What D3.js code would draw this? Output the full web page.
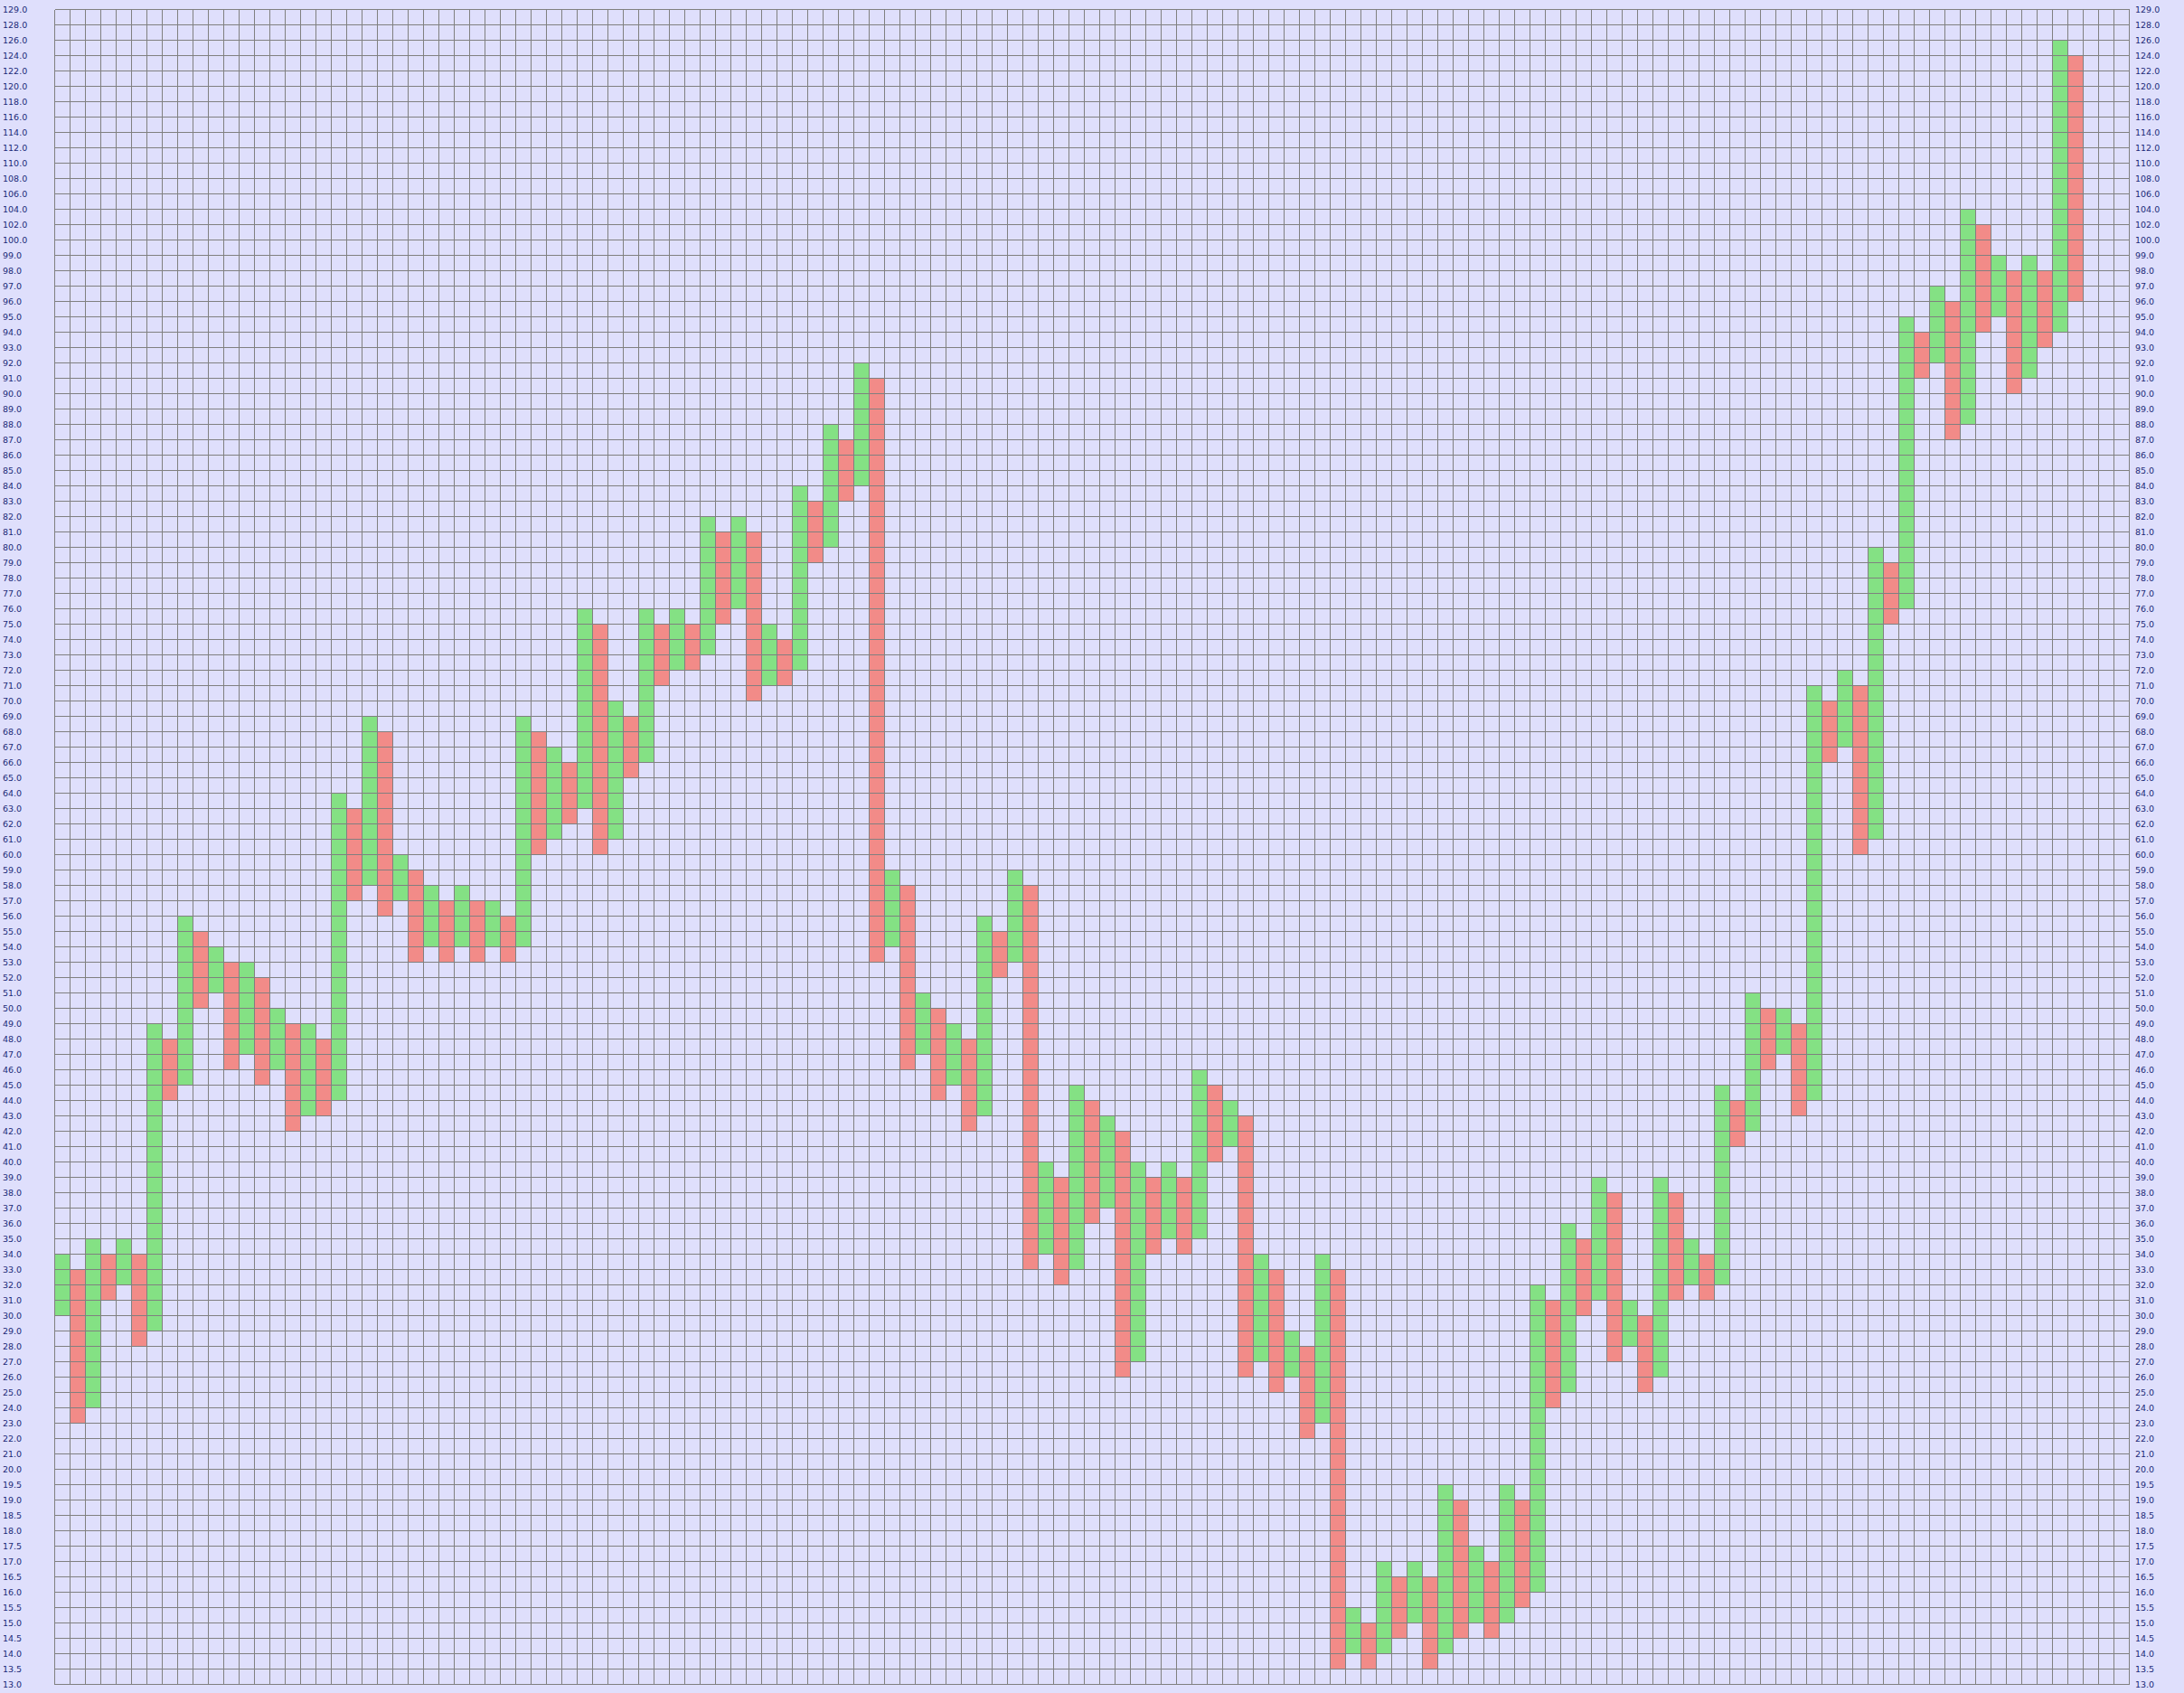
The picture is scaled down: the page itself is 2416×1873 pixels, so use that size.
<!DOCTYPE html>
<html>
<head>
<meta charset="utf-8">
<script src="https://cdn.jsdelivr.net/npm/d3@7"></script>
<style>
  html, body { margin: 0; padding: 0; background: #dfdffc; }
  svg { display: block; }
  .tick text { font-family: "DejaVu Sans", Verdana, sans-serif; font-size: 9.5px; fill: #1a2a78; }
</style>
</head>
<body>
<svg id="chart" width="2416" height="1873"></svg>
<script>
// Box price levels (y axis tick labels), ascending
const levelsHalf = [13.0,13.5,14.0,14.5,15.0,15.5,16.0,16.5,17.0,17.5,18.0,18.5,19.0,19.5,20.0];
const levelsOne = [21,22,23,24,25,26,27,28,29,30,31,32,33,34,35,36,37,38,39,40,41,42,43,44,45,46,47,48,49,50,
  51,52,53,54,55,56,57,58,59,60,61,62,63,64,65,66,67,68,69,70,71,72,73,74,75,76,77,78,79,80,
  81,82,83,84,85,86,87,88,89,90,91,92,93,94,95,96,97,98,99,100];
const levelsTwo = [102,104,106,108,110,112,114,116,118,120,122,124,126,128,129];

// Column lows / highs (box levels); columns alternate rising (X) / falling (O), starting with rising
const colLow = [30,23,24,31,32,28,29,44,45,50,51,46,47,45,46,42,43,43,44,57,58,56,57,53,54,53,54,53,54,53,
  54,60,61,62,63,60,61,65,66,71,72,72,73,75,76,70,71,71,72,79,80,83,84,53,54,46,47,44,45,42,
  43,52,53,33,34,32,33,36,37,26,27,34,35,34,35,40,41,26,27,25,26,22,23,13.5,14,13.5,14,14.5,15,13.5,
  14,14.5,15,14.5,15,15.5,16,24,25,30,31,27,28,25,26,31,32,31,32,41,42,46,47,43,44,66,67,60,61,75,
  76,91,92,87,88,94,95,90,91,93,94,96];
const colHigh = [34,33,35,34,35,34,49,48,56,55,54,53,53,52,50,49,49,48,64,63,69,68,60,59,58,57,58,57,57,56,
  69,68,67,66,76,75,70,69,76,75,76,75,82,81,82,81,75,74,84,83,88,87,92,91,59,58,51,50,49,48,
  56,55,59,58,40,39,45,44,43,42,40,39,40,39,46,45,44,43,34,33,29,28,34,33,15.5,15,17,16.5,17,16.5,
  19.5,19,17.5,17,19.5,19,32,31,36,35,39,38,31,30,39,38,35,34,45,44,51,50,50,49,71,70,72,71,80,79,
  95,94,97,96,104,102,99,98,99,98,126,124];
const colType = colLow.map((d, i) => i % 2 === 0 ? "X" : "O");
const totalColumns = 135;

const levels = levelsHalf.concat(levelsOne, levelsTwo);

const svg = d3.select("#chart");
const plotLeft = 60.5, plotRight = 2355.5, plotTop = 10.5, plotBottom = 1863.5;

svg.append("rect").attr("x", 0).attr("y", 0).attr("width", 2416).attr("height", 1873).attr("fill", "#dfdffc");

const y = d3.scalePoint().domain(levels).range([plotBottom, plotTop]);
const x = d3.scaleBand().domain(d3.range(totalColumns)).range([plotLeft, plotRight]).padding(0);

// bars
svg.append("g").selectAll("rect")
  .data(colLow.map((lo, i) => ({ i, lo, hi: colHigh[i], t: colType[i] })))
  .join("rect")
  .attr("x", d => x(d.i))
  .attr("width", x.bandwidth())
  .attr("y", d => y(d.hi))
  .attr("height", d => y(d.lo) - y(d.hi))
  .attr("fill", d => d.t === "X" ? "#84e184" : "#f28b88");

// grid
const grid = svg.append("g").attr("stroke", "#808080").attr("stroke-width", 1).attr("shape-rendering", "crispEdges");
grid.selectAll("line.h").data(levels).join("line").attr("class", "h")
  .attr("x1", plotLeft).attr("x2", plotRight).attr("y1", d => y(d)).attr("y2", d => y(d));
grid.selectAll("line.v").data(d3.range(totalColumns + 1)).join("line").attr("class", "v")
  .attr("x1", d => plotLeft + d * x.step()).attr("x2", d => plotLeft + d * x.step())
  .attr("y1", plotTop).attr("y2", plotBottom);

// axes (labels only)
const fmt = d3.format(".1f");
const gl = svg.append("g").attr("transform", "translate(3,0)")
  .call(d3.axisLeft(y).tickSize(0).tickPadding(0).tickFormat(fmt));
gl.select(".domain").remove();
gl.selectAll(".tick text").attr("x", 0).attr("text-anchor", "start").attr("font-size", null).attr("font-family", null).attr("fill", null);
gl.attr("font-size", null).attr("font-family", null);

const gr = svg.append("g").attr("transform", "translate(2362,0)")
  .call(d3.axisRight(y).tickSize(0).tickPadding(0).tickFormat(fmt));
gr.select(".domain").remove();
gr.selectAll(".tick text").attr("x", 0).attr("text-anchor", "start").attr("font-size", null).attr("font-family", null).attr("fill", null);
gr.attr("font-size", null).attr("font-family", null);
</script>
</body>
</html>
